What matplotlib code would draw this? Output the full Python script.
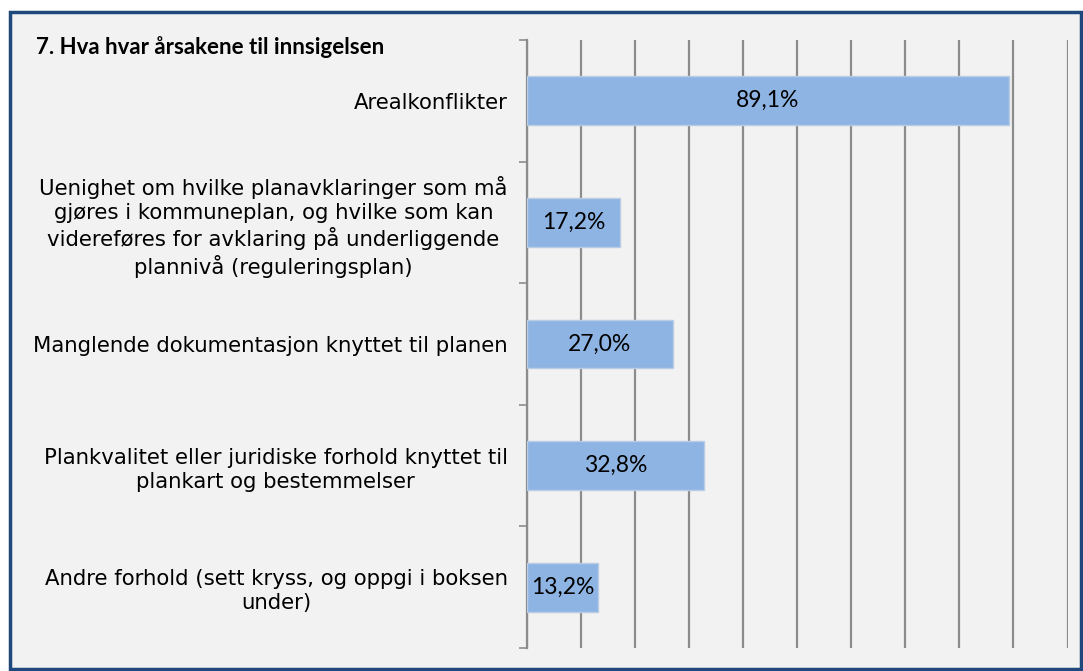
import matplotlib.pyplot as plt
from matplotlib.patches import Rectangle

title = "7. Hva hvar årsakene til innsigelsen"
categories = [
    "Arealkonflikter",
    "Uenighet om hvilke planavklaringer som må\ngjøres i kommuneplan, og hvilke som kan\n"
    "videreføres for avklaring på underliggende\nplannivå (reguleringsplan)",
    "Manglende dokumentasjon knyttet til planen",
    "Plankvalitet eller juridiske forhold knyttet til\nplankart og bestemmelser",
    "Andre forhold (sett kryss, og oppgi i boksen\nunder)",
]
values = [89.1, 17.2, 27.0, 32.8, 13.2]
labels = ["89,1%", "17,2%", "27,0%", "32,8%", "13,2%"]

W, H = 1083, 671
fig = plt.figure(figsize=(W / 100, H / 100), dpi=100, facecolor='white')

# panel background with dark blue frame
fig.patches.append(Rectangle((10 / W, 2 / H), 1071 / W, 657 / H, transform=fig.transFigure,
                             facecolor='#f2f2f2', edgecolor='#1f497d', linewidth=2.5, zorder=-5))

ax = fig.add_axes([527 / W, 1 - 648 / H, (1067.5 - 527) / W, (648 - 40) / H])
ax.set_facecolor('none')

y = list(range(len(values)))
ax.barh(y, values, height=0.4, color='#8eb4e3', edgecolor='#b9cde5', linewidth=1, zorder=3)
for yi, v, lab in zip(y, values, labels):
    ax.text(v / 2, yi, lab, ha='center', va='center', fontsize=16.5, family='Lato', zorder=4)

ax.set_xlim(0, 100)
ax.set_ylim(len(values) - 0.5, -0.5)
ax.set_xticks(range(0, 101, 10))
ax.xaxis.grid(True, color='#8c8c8c', linewidth=1.6, zorder=1)
ax.tick_params(axis='x', length=0, labelbottom=False)

ax.set_yticks(y)
ax.set_yticklabels(categories, fontsize=15.3, family='DejaVu Sans', multialignment='center',
                   linespacing=1.25)
ax.tick_params(axis='y', length=0, pad=14)
ax.set_yticks([i - 0.5 for i in range(len(values) + 1)], minor=True)
ax.tick_params(axis='y', which='minor', length=6, width=1.2, color='#8c8c8c')

for s in ['top', 'right', 'bottom']:
    ax.spines[s].set_visible(False)
ax.spines['left'].set_color('#8c8c8c')
ax.spines['left'].set_linewidth(1.6)

fig.text(36 / W, 1 - 47 / H, title, fontsize=16, fontweight='bold', family='Lato',
         ha='left', va='center')

fig.savefig('out.png', dpi=100, facecolor=fig.get_facecolor())
